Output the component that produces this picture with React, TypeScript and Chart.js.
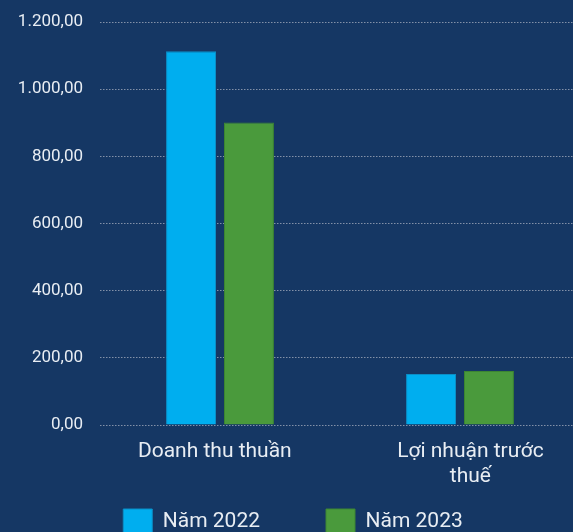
import React, { useEffect, useRef } from "react";
import { Chart, registerables } from "chart.js";

Chart.register(...registerables);

const categories: (string | string[])[] = ["Doanh thu thuần  ", ["    Lợi nhuận trước", "    thuế"]];
const seriesNames = ["Năm 2022", "Năm 2023"];
const values2022 = [1113, 152];
const values2023 = [901, 161];
const yTicks = [0, 200, 400, 600, 800, 1000, 1200];

const BG = "#153764";

function fmt(v: number): string {
  const fixed = v.toFixed(2);
  const [intPart, dec] = fixed.split(".");
  const withSep = intPart.replace(/\B(?=(\d{3})+(?!\d))/g, ".");
  return withSep + "," + dec;
}

export default function App() {
  const ref = useRef<HTMLCanvasElement | null>(null);

  useEffect(() => {
    document.body.style.margin = "0";
    document.body.style.background = BG;
    const ctx = ref.current!;
    const chart = new Chart(ctx, {
      type: "bar",
      data: {
        labels: categories as any,
        datasets: [
          {
            label: seriesNames[0],
            data: values2022,
            backgroundColor: "#00aeef",
            borderColor: "#0b8ec6",
            borderWidth: 1,
            categoryPercentage: 0.483,
            barPercentage: 0.862,
          },
          {
            label: seriesNames[1],
            data: values2023,
            backgroundColor: "#4a9a3c",
            borderColor: "#3c8532",
            borderWidth: 1,
            categoryPercentage: 0.483,
            barPercentage: 0.862,
          },
        ],
      },
      options: {
        animation: false,
        responsive: false,
        maintainAspectRatio: false,
        layout: { padding: { top: 22, left: 6, right: 0, bottom: 0 } },
        plugins: {
          tooltip: { enabled: false },
          legend: {
            position: "bottom",
            labels: {
              color: "#e8edf3",
              font: { family: "Roboto", size: 21 },
              boxWidth: 29,
              boxHeight: 26,
              padding: 66,
            },
          },
        },
        scales: {
          x: {
            grid: { display: false, drawTicks: false },
            border: { display: false },
            ticks: {
              color: "#e8edf3",
              font: { family: "Roboto", size: 21, lineHeight: 1.2 },
              padding: 14,
              maxRotation: 0,
              autoSkip: false,
            },
            afterFit: (scale: any) => {
              scale.height = 18;
            },
            afterUpdate: (scale: any) => {
              // let the category labels extend below the (shortened) axis box
              scale._computeLabelArea = () => undefined;
            },
          },
          y: {
            min: 0,
            max: 1200,
            afterBuildTicks: (scale: any) => {
              scale.ticks = yTicks.map((v) => ({ value: v }));
            },
            grid: {
              color: "#8391a8",
              lineWidth: 1,
              drawTicks: false,
            },
            border: { display: false, dash: [1.5, 1.5] },
            ticks: {
              color: "#e8edf3",
              font: { family: "Roboto", size: 17 },
              padding: 17,
              callback: (v: any) => fmt(Number(v)),
            },
            afterFit: (scale: any) => {
              scale.width = 94;
              scale.paddingTop = 10;
              scale.paddingBottom = 10;
            },
          },
        },
      },
      plugins: [
        {
          id: "bgfill",
          beforeDraw: (c: any) => {
            const g = c.ctx;
            g.save();
            g.fillStyle = BG;
            g.fillRect(0, 0, c.width, c.height);
            g.restore();
          },
        },
      ],
    });
    return () => chart.destroy();
  }, []);

  return (
    <div
      style={{
        position: "fixed",
        left: 0,
        top: 0,
        width: "100vw",
        height: "100vh",
        overflow: "hidden",
        background: BG,
      }}
    >
      <canvas ref={ref} width={580} height={545} style={{ display: "block", width: 580, height: 545 }} />
    </div>
  );
}
